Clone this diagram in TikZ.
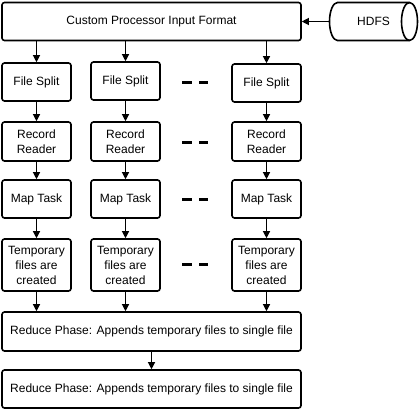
\documentclass[tikz,border=0pt]{standalone}
\usepackage{fontspec}
\setmainfont{Liberation Sans}
\usetikzlibrary{arrows.meta}
\begin{document}
\begin{tikzpicture}[x=1pt,y=-1pt,
  box/.style={draw, line width=1.6pt, rounded corners=2.5pt, inner sep=0pt, align=center,
    font=\fontsize{12}{15}\selectfont},
  colbox/.style={box, minimum width=69pt},
  arr/.style={line width=1.2pt, -{Triangle[length=7pt,width=7pt]}},
  cyl/.style={line width=1.6pt},
  gap/.style={line width=3pt}]
\useasboundingbox (0,0) rectangle (420,413);
\node[box, minimum width=299pt, minimum height=38pt] (top) at (151.5,21.5) {Custom Processor Input Format};
% HDFS cylinder
\node[inner sep=0pt, minimum width=89pt, minimum height=39pt, font=\fontsize{12}{15}\selectfont] (hdfs) at (373.5,21.5) {HDFS};
\draw[cyl] (337.5,2.5) arc[start angle=90, end angle=270, x radius=8pt, y radius=19pt]
  -- (409.5,40.5) arc[start angle=-90, end angle=90, x radius=8pt, y radius=19pt] -- cycle;
\draw[cyl] (409.5,2.5) arc[start angle=90, end angle=270, x radius=8pt, y radius=19pt];
% row 1
\node[colbox, minimum height=38pt] (fs1) at (36.5,82) {File Split};
\node[colbox, minimum height=38pt] (fs2) at (125.5,81) {File Split};
\node[colbox, minimum height=38pt] (fs3) at (266.5,83) {File Split};
% row 2
\node[colbox, minimum height=39pt] (rr1) at (36.5,141.5) {Record\\Reader};
\node[colbox, minimum height=39pt] (rr2) at (125.5,141.5) {Record\\Reader};
\node[colbox, minimum height=39pt] (rr3) at (266.5,141.5) {Record\\Reader};
% row 3
\node[colbox, minimum height=38pt] (mt1) at (36.5,199) {Map Task};
\node[colbox, minimum height=38pt] (mt2) at (125.5,199) {Map Task};
\node[colbox, minimum height=38pt] (mt3) at (266.5,199) {Map Task};
% row 4
\node[colbox, minimum height=52pt] (tf1) at (36.5,265) {Temporary\\files are\\created};
\node[colbox, minimum height=52pt] (tf2) at (125.5,265) {Temporary\\files are\\created};
\node[colbox, minimum height=52pt] (tf3) at (266.5,265) {Temporary\\files are\\created};
% reduce
\node[box, minimum width=299pt, minimum height=39pt] (rd1) at (151.5,331.5) {Reduce Phase: Appends temporary files to single file};
\node[box, minimum width=299pt, minimum height=38pt] (rd2) at (151.5,389) {Reduce Phase: Appends temporary files to single file};
% arrows
\draw[arr] (hdfs.west) -- (top.east);
\foreach \c in {1,2,3}{
  \draw[arr] (top.south -| fs\c) -- (fs\c);
  \draw[arr] (fs\c) -- (rr\c);
  \draw[arr] (rr\c) -- (mt\c);
  \draw[arr] (mt\c) -- (tf\c);
  \draw[arr] (tf\c) -- (tf\c |- rd1.north);
}
\draw[arr] (rd1) -- (rd2);
% dashes
\foreach \y in {82,142,199,264}{
  \draw[gap] (182,\y) -- (192,\y);
  \draw[gap] (199,\y) -- (208,\y);
}
\end{tikzpicture}
\end{document}
